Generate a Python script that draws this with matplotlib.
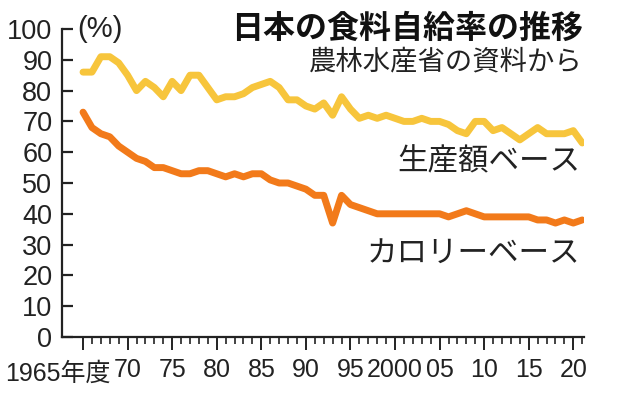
import matplotlib
matplotlib.use('Agg')
import matplotlib.pyplot as plt
import numpy as np

years = list(range(1965, 2022))

# 生産額ベース (%)
production = [86, 86, 91, 91, 89, 85, 80, 83, 81, 78,
              83, 80, 85, 85, 81, 77, 78, 78, 79, 81,
              82, 83, 81, 77, 77, 75, 74, 76, 72, 78,
              74, 71, 72, 71, 72, 71, 70, 70, 71, 70,
              70, 69, 67, 66, 70, 70, 67, 68, 66, 64,
              66, 68, 66, 66, 66, 67, 63]

# カロリーベース (%)
calorie = [73, 68, 66, 65, 62, 60, 58, 57, 55, 55,
           54, 53, 53, 54, 54, 53, 52, 53, 52, 53,
           53, 51, 50, 50, 49, 48, 46, 46, 37, 46,
           43, 42, 41, 40, 40, 40, 40, 40, 40, 40,
           40, 39, 40, 41, 40, 39, 39, 39, 39, 39,
           39, 38, 38, 37, 38, 37, 38]

yticks = list(range(0, 101, 10))
major_years = list(range(1965, 2021, 5))
major_labels = ['', '70', '75', '80', '85', '90', '95', '2000', '05', '10', '15', '20']

num_font = ['Liberation Sans', 'DejaVu Sans']
jp_font = ['Noto Sans CJK JP', 'DejaVu Sans']

yellow = '#F7C53C'
orange = '#F27A1A'
ink = '#222222'

fig = plt.figure(figsize=(6.18, 3.97), dpi=100)
ax = fig.add_axes([62 / 618, 60 / 397, 522 / 618, 308 / 397])

ax.plot(years, production, color=yellow, lw=5, solid_joinstyle='round', solid_capstyle='round')
ax.plot(years, calorie, color=orange, lw=5, solid_joinstyle='round', solid_capstyle='round')

ax.set_xlim(1962.64, 2021.2)
ax.set_ylim(0, 100)

for s in ['top', 'right']:
    ax.spines[s].set_visible(False)
for s in ['left', 'bottom']:
    ax.spines[s].set_color(ink)
    ax.spines[s].set_linewidth(1.6)

ax.set_yticks(yticks)
ax.set_yticklabels([str(v) for v in yticks], family=num_font, fontsize=19.5, color=ink)
ax.tick_params(axis='y', direction='in', length=8, width=1.6, color=ink, pad=7)

ax.set_xticks(major_years)
ax.set_xticklabels(major_labels, family=num_font, fontsize=18, color=ink)
ax.set_xticks(years, minor=True)
ax.tick_params(axis='x', which='major', direction='out', length=9, width=1.4, color=ink, pad=6)
ax.tick_params(axis='x', which='minor', direction='out', length=5, width=1.2, color=ink)

ax.text(1962.2, -0.12, '1965年度', transform=ax.get_xaxis_transform(), ha='center', va='center',
        family=['Liberation Sans', 'Noto Sans CJK JP'], fontsize=18, color=ink)

ax.text(1964.4, 100, '(%)', ha='left', va='center', family=num_font, fontsize=21, color=ink)

fig.text(583 / 618, 368 / 397, '日本の食料自給率の推移', ha='right', va='center',
         family=jp_font, fontsize=23, fontweight='bold', color='#111111')
fig.text(583 / 618, 335 / 397, '農林水産省の資料から', ha='right', va='center',
         family=jp_font, fontsize=19.7, color=ink)

ax.text(2020.8, 57, '生産額ベース', ha='right', va='center', family=jp_font, fontsize=22, color=ink)
ax.text(2020.8, 27, 'カロリーベース', ha='right', va='center', family=jp_font, fontsize=22, color=ink)

fig.savefig('out.png', dpi=100)
